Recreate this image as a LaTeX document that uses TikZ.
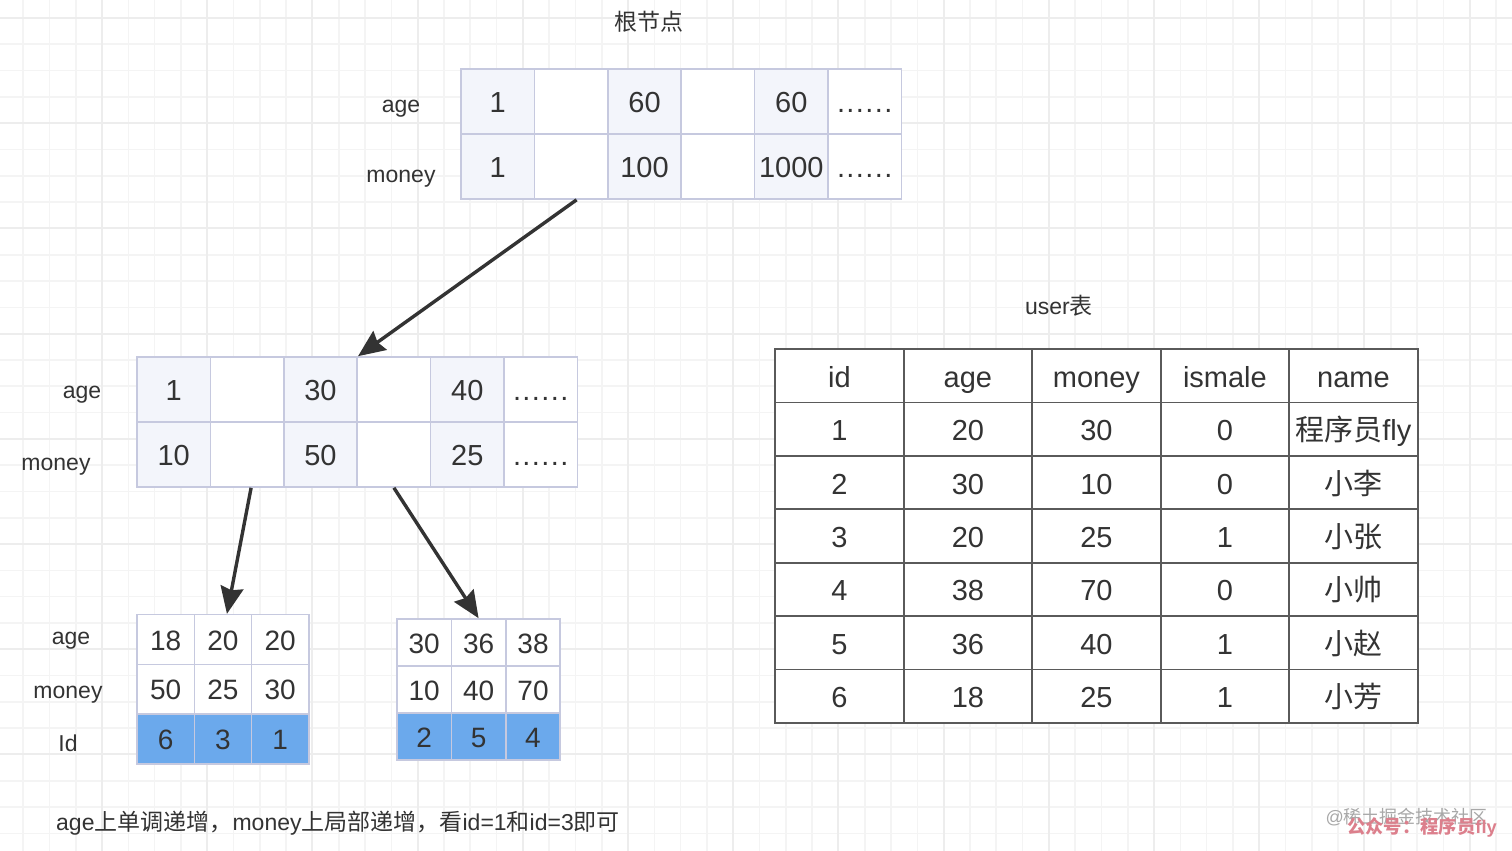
\documentclass[tikz,border=0pt]{standalone}
\usepackage{fontspec}
\setmainfont{Liberation Sans}
\newfontfamily\cjk{Noto Sans CJK SC}
\usetikzlibrary{arrows.meta, positioning}

\definecolor{ink}{HTML}{333333}
\definecolor{cellline}{HTML}{C6C9DF}
\definecolor{celltint}{HTML}{F3F5FB}
\definecolor{idblue}{HTML}{6BA9EC}
\definecolor{tableline}{HTML}{5A5A5A}
\definecolor{gridminor}{HTML}{F4F4F4}
\definecolor{gridmajor}{HTML}{EDEDED}
\definecolor{wmgray}{HTML}{A8A8A8}
\definecolor{wmred}{HTML}{DC7F8C}

\newcommand{\more}{.\kern1.4pt.\kern1.4pt.\kern1.4pt.\kern1.4pt.\kern1.4pt.}

\tikzset{
  caption/.style={text=ink, inner sep=0pt, font=\fontsize{23pt}{23pt}\selectfont},
  cell/.style={draw=cellline, line width=1.6pt, fill=white, text=ink, inner sep=0pt,
    text height=21pt, text depth=0pt, font=\fontsize{29pt}{29pt}\selectfont,
    minimum width=73.4pt, minimum height=65pt},
  tint/.style={cell, fill=celltint},
  plain/.style={cell},
  leaf/.style={cell, font=\fontsize{28pt}{28pt}\selectfont},
  idcell/.style={leaf, fill=idblue},
  tcell/.style={draw=tableline, line width=1.8pt, fill=white, text=ink, inner sep=0pt,
    text height=23pt, text depth=0pt, font=\fontsize{29pt}{29pt}\selectfont,
    minimum width=128.5pt, minimum height=53.4pt},
  link/.style={-{Stealth[length=27pt,width=23pt,inset=3pt]}, draw=ink, line width=3.4pt},
}

\begin{document}
\begin{tikzpicture}[x=1pt, y=-1pt, on grid]
   \useasboundingbox (0,0) rectangle (1512,851);
   \fill[white] (0,0) rectangle (1512,851);

   % background paper
   \foreach \k in {-3,...,53} \draw[gridminor, line width=1.6pt] ({102+26.3*\k},0) -- ({102+26.3*\k},851);
   \foreach \k in {0,...,31} \draw[gridminor, line width=1.6pt] (0,{18+26.3*\k}) -- (1512,{18+26.3*\k});
   \foreach \k in {0,...,14} \draw[gridmajor, line width=2pt] ({102+105.2*\k},0) -- ({102+105.2*\k},851);
   \foreach \k in {0,...,7} \draw[gridmajor, line width=2pt] (0,{18+105.2*\k}) -- (1512,{18+105.2*\k});

   % root node
   \node[caption] (roottitle) at (649,22) {\cjk 根节点};
   \node[caption] (rootage) at (401,109) {age};
   \node[caption] (rootmoney) at (401,179) {money};
   \foreach \val/\sty [count=\c] in {1/tint, {}/plain, 60/tint, {}/plain, 60/tint, \more/plain}
     \node[\sty] (ra\c) at ({461+73.4*(\c-.5)},101.5) {\val};
   \foreach \val/\sty [count=\c] in {1/tint, {}/plain, 100/tint, {}/plain, 1000/tint, \more/plain}
     \node[\sty, below=65pt of ra\c] (rm\c) {\val};

   % middle node
   \node[caption] (midage) at (82,395) {age};
   \node[caption] (midmoney) at (56,467) {money};
   \foreach \val/\sty [count=\c] in {1/tint, {}/plain, 30/tint, {}/plain, 40/tint, \more/plain}
     \node[\sty] (ma\c) at ({137+73.4*(\c-.5)},389.5) {\val};
   \foreach \val/\sty [count=\c] in {10/tint, {}/plain, 50/tint, {}/plain, 25/tint, \more/plain}
     \node[\sty, below=65pt of ma\c] (mm\c) {\val};

   % left leaf
   \node[caption] (leftage) at (71,641) {age};
   \node[caption] (leftmoney) at (68,695) {money};
   \node[caption] (leftid) at (68,743) {Id};
   \foreach \a/\b/\i [count=\c] in {18/50/6, 20/25/3, 20/30/1} {
     \node[leaf, minimum width=57.3pt, minimum height=49.7pt] (la\c) at ({137+57.3*(\c-.5)},639.5) {\a};
     \node[leaf, minimum width=57.3pt, minimum height=49.7pt, below=49.7pt of la\c] (lm\c) {\b};
     \node[idcell, minimum width=57.3pt, minimum height=49.7pt, below=49.7pt of lm\c] (li\c) {\i};
   }

   % right leaf
   \foreach \a/\b/\i [count=\c] in {30/10/2, 36/40/5, 38/70/4} {
     \node[leaf, minimum width=54.4pt, minimum height=47pt] (qa\c) at ({397+54.4*(\c-.5)},642.5) {\a};
     \node[leaf, minimum width=54.4pt, minimum height=47pt, below=47pt of qa\c] (qm\c) {\b};
     \node[idcell, minimum width=54.4pt, minimum height=47pt, below=47pt of qm\c] (qi\c) {\i};
   }

   \draw[link] ([xshift=5.5pt]rm2.south) -- (ma3.north east);
   \draw[link] ([xshift=4pt]mm2.south) -- ([xshift=4pt]la2.north);
   \draw[link] (mm4.south) -- (qa2.north);

   % user table
   \node[caption] (usertitle) at (1059,306) {user{\cjk 表}};
   \foreach \a/\b/\d/\e/\f [count=\r] in {
       id/age/money/ismale/name,
       1/20/30/0/{\cjk 程序员}fly,
       2/30/10/0/{\cjk 小李},
       3/20/25/1/{\cjk 小张},
       4/38/70/0/{\cjk 小帅},
       5/36/40/1/{\cjk 小赵},
       6/18/25/1/{\cjk 小芳}} {
     \node[tcell] (t\r a) at (839.4,{349+53.4*(\r-.5)}) {\a};
     \node[tcell, right=128.5pt of t\r a] (t\r b) {\b};
     \node[tcell, right=128.5pt of t\r b] (t\r c) {\d};
     \node[tcell, right=128.5pt of t\r c] (t\r d) {\e};
     \node[tcell, right=128.5pt of t\r d] (t\r e) {\f};
   }

   % note and watermarks
   \node[caption, anchor=west] (note) at (56,823)
     {age{\cjk 上单调递增，}money{\cjk 上局部递增，看}id=1{\cjk 和}id=3{\cjk 即可}};
   \node[caption, anchor=east, text=wmgray, font=\fontsize{18pt}{18pt}\selectfont] (wmone) at (1488,817) {@{\cjk 稀土掘金技术社区}};
   \node[caption, anchor=east, text=wmred, font=\fontsize{18.3pt}{18.3pt}\bfseries] (wmtwo) at (1497,827) {{\cjk 公众号：程序员}fly};
\end{tikzpicture}
\end{document}
